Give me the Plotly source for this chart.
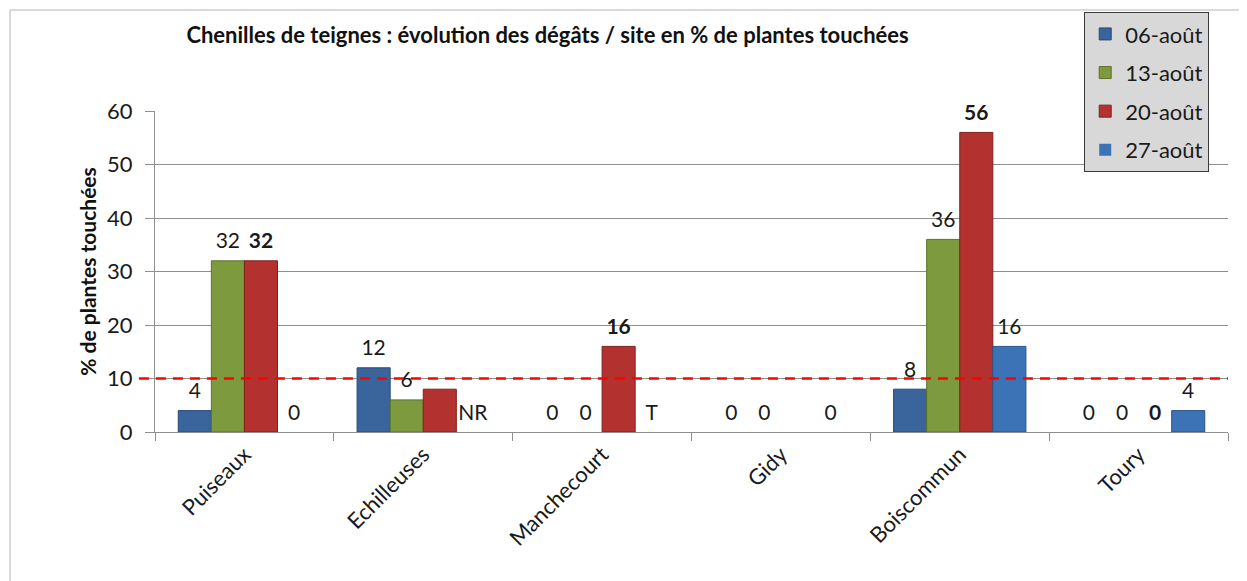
import plotly.graph_objects as go

sites = ["Puiseaux", "Echilleuses", "Manchecourt", "Gidy", "Boiscommun", "Toury"]
series_names = ["06-août", "13-août", "20-août", "27-août"]

v_0608 = [4, 12, 0, 0, 8, 0]
v_1308 = [32, 6, 0, 0, 36, 0]
v_2008 = [32, 8, 16, 0, 56, 0]
v_2708 = [0, 0, 0, 0, 16, 4]

t_0608 = ["4", "12", "0", "0", "8", "0"]
t_1308 = ["32", "6", "0", "0", "36", "0"]
t_2008 = ["<b>32</b>", "", "<b>16</b>", "", "<b>56</b>", "<b>0</b>"]
t_2708 = ["0", "NR", "T", "0", "16", "4"]

threshold = 10
y_ticks = [0, 10, 20, 30, 40, 50, 60]

colors = ["#3a649c", "#7e9a3e", "#b3322f", "#3c73b6"]
edge_colors = ["#2a4a75", "#5c722c", "#7e2220", "#2a5588"]

FONT = "Lato, 'Open Sans', sans-serif"
GAP = 0.26

fig = go.Figure()
for name, vals, c, ec in zip(series_names, [v_0608, v_1308, v_2008, v_2708], colors, edge_colors):
    fig.add_trace(go.Bar(
        x=sites, y=vals, name=name, legendgroup=name,
        marker=dict(color=c, line=dict(color=ec, width=[1 if v > 0 else 0 for v in vals])),
    ))

# data labels, grouped like the bars
for name, vals, txt in zip(series_names, [v_0608, v_1308, v_2008, v_2708],
                           [t_0608, t_1308, t_2008, t_2708]):
    fig.add_trace(go.Scatter(
        x=sites, y=vals, text=txt, mode="markers+text", textposition="top center",
        marker=dict(size=10, color="rgba(0,0,0,0)"), cliponaxis=False,
        textfont=dict(size=21, color="#1a1a1a", family=FONT),
        showlegend=False, hoverinfo="skip",
    ))

fig.add_shape(type="line", xref="paper", yref="y", x0=-0.015, x1=1,
              y0=threshold, y1=threshold,
              line=dict(color="#ff0000", width=2.5, dash="10px,7px"), layer="above")

# outer frame
fig.add_shape(type="rect", xref="paper", yref="paper",
              x0=-0.1351, x1=1.3, y0=-1.0, y1=1.3146,
              line=dict(color="#b4b4b4", width=1), fillcolor="rgba(0,0,0,0)", layer="below")

fig.update_layout(
    width=1239, height=573,
    margin=dict(l=147, r=19, t=103, b=149, autoexpand=False),
    paper_bgcolor="white", plot_bgcolor="white",
    font=dict(family=FONT, color="#1a1a1a"),
    barmode="group", bargap=GAP, bargroupgap=0.0,
    scattermode="group", scattergap=GAP,
    title=dict(text="<b>Chenilles de teignes : évolution des dégâts / site en % de plantes touchées</b>",
               x=0.4355, xanchor="center", y=0.953, yanchor="middle",
               font=dict(size=22, family=FONT, color="#111111")),
    legend=dict(x=0.866, y=1.308, xanchor="left", yanchor="top",
                bgcolor="#d8d8d8", bordercolor="#3a3a3a", borderwidth=1,
                font=dict(size=22, family=FONT, color="#1a1a1a"),
                tracegroupgap=7, traceorder="grouped"),
    showlegend=True,
)

fig.update_yaxes(range=[0, 60], tickvals=y_ticks, showgrid=True, gridcolor="#8f8f8f", gridwidth=1,
                 showline=True, linecolor="#8f8f8f", ticks="outside", ticklen=9, tickcolor="#8f8f8f",
                 tickfont=dict(size=22, family=FONT, color="#1a1a1a"), ticklabelstandoff=8,
                 zeroline=False, automargin=False,
                 title=dict(text="<b>% de plantes touchées</b>", standoff=4,
                            font=dict(size=21, family=FONT, color="#111111")))
fig.update_xaxes(showline=True, linecolor="#8f8f8f", ticks="outside", ticklen=8, tickcolor="#8f8f8f",
                 tickson="boundaries", tickangle=-45, automargin=False,
                 tickfont=dict(size=22, family=FONT, color="#1a1a1a"))

fig.write_html("out.html")
